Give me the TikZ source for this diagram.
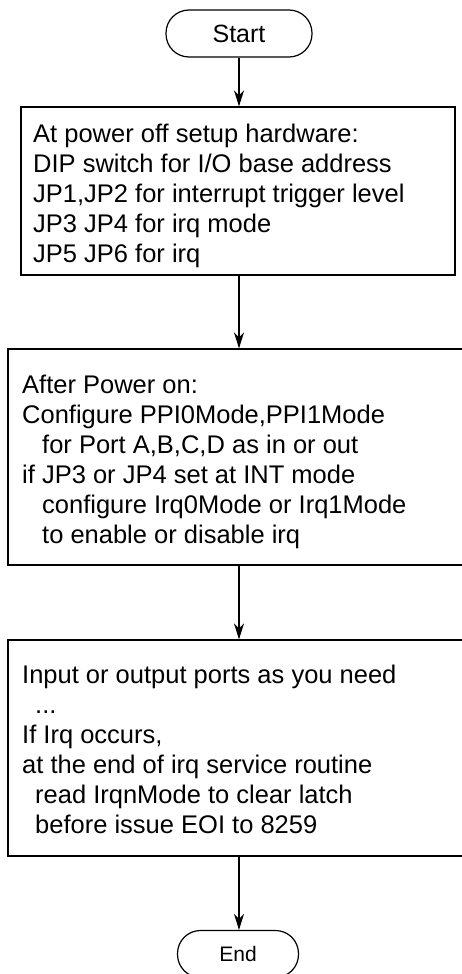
\documentclass[tikz,border=0pt]{standalone}
\usepackage{fontspec}
\setmainfont{Liberation Sans}
\usetikzlibrary{arrows.meta}
\begin{document}
\begin{tikzpicture}[x=1pt,y=-1pt,
  terminal/.style={draw, line width=1.2pt, rounded corners=23pt, minimum height=47pt, inner sep=0pt},
  procbox/.style={draw, line width=1.2pt, inner sep=0pt},
  txt/.style={anchor=north west, inner sep=0pt, align=left, font=\fontsize{25.5}{30}\selectfont},
  flow/.style={line width=1.2pt, -{Stealth[length=16pt,width=10pt,inset=5pt]}}]
\useasboundingbox (0,0) rectangle (462,974);
\clip (0,0) rectangle (462,974);
\node[terminal, minimum width=146pt, font=\fontsize{25}{30}\selectfont] (start) at (239,33.5) {Start};
\node[procbox, minimum width=434pt, minimum height=168pt] (b1) at (238,191) {};
\node[procbox, minimum width=463pt, minimum height=216pt] (b2) at (239.5,457) {};
\node[procbox, minimum width=463pt, minimum height=216pt] (b3) at (239.5,748) {};
\node[terminal, minimum width=121pt, font=\fontsize{21}{25}\selectfont] (end) at (238,954) {End};
\node[txt] (t1) at (33,122) {\rule{0pt}{20pt}At power off setup hardware:\\DIP switch for I/O base address\\JP1,JP2 for interrupt trigger level\\JP3 JP4 for irq mode\\JP5 JP6 for irq};
\node[txt] (t2) at (22,373) {\rule{0pt}{20pt}After Power on:\\Configure PPI0Mode,PPI1Mode\\\hspace*{20pt}for Port A,B,C,D as in or out\\if JP3 or JP4 set at INT mode\\\hspace*{20pt}configure Irq0Mode or Irq1Mode\\\hspace*{20pt}to enable or disable irq};
\node[txt] (t3) at (22,663) {\rule{0pt}{20pt}Input or output ports as you need\\\hspace*{13pt}...\\If Irq occurs,\\at the end of irq service routine\\\hspace*{13pt}read IrqnMode to clear latch\\\hspace*{13pt}before issue EOI to 8259};
\draw[flow] (start.south) -- (start.south |- b1.north);
\draw[flow] (b1.south -| start) -- (b2.north -| start);
\draw[flow] (b2.south -| start) -- (b3.north -| start);
\draw[flow] (b3.south -| start) -- (end.north -| start);
\end{tikzpicture}
\end{document}
